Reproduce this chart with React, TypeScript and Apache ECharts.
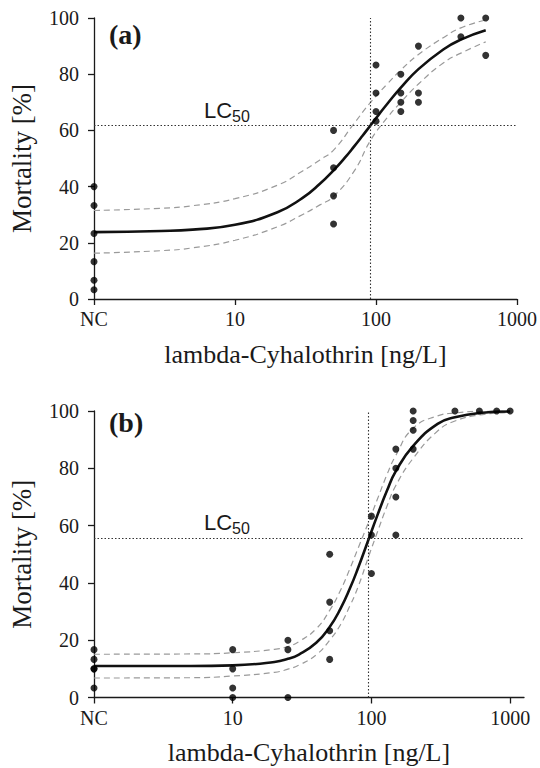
import React, { useEffect, useRef } from "react";
import * as echarts from "echarts";

// ---------- shared axis data ----------
const xTickPositions = [0, 1, 2, 3]; // log10 of concentration, NC placed at 1 ng/L
const xTickLabels = ["NC", "10", "100", "1000"];
const xTitle = "lambda-Cyhalothrin [ng/L]";
const yTitle = "Mortality [%]";

// ---------- panel (a) ----------
const obsConcA = ["NC", "NC", "NC", "NC", "NC", "NC", 50, 50, 50, 50, 100, 100, 100, 100, 150, 150, 150, 150, 200, 200, 200, 400, 400, 600, 600];
const obsMortA = [40, 33.3, 23.3, 13.3, 6.7, 3.3, 60, 46.7, 36.7, 26.7, 83.3, 73.3, 66.7, 63.3, 80, 73.3, 70, 66.7, 90, 73.3, 70, 100, 93.3, 100, 86.7];

const fitConcA = [1, 3, 5, 10, 20, 30, 40, 50, 60, 70, 80, 91.6, 105, 120, 150, 200, 300, 400, 600];
const fitMortA = [23.8, 24.2, 24.7, 26.4, 30.9, 35.9, 41.0, 45.8, 50.2, 54.3, 58.0, 61.85, 65.7, 69.4, 75.2, 81.8, 88.8, 92.3, 95.6];

const bandConcA = [1, 3, 5, 10, 20, 30, 40, 50, 70, 91.6, 120, 150, 200, 300, 400, 600];
const upperA = [31.5, 32.3, 33.2, 35.7, 40.5, 45.5, 49.5, 53.0, 62.5, 70.0, 76.5, 81.5, 87.0, 93.0, 96.5, 99.3];
const lowerA = [16.3, 17.2, 18.2, 20.9, 25.7, 30.0, 33.5, 36.5, 45.5, 56.5, 64.5, 70.0, 76.5, 84.0, 87.5, 91.5];

const lc50ConcA = 91.6;
const lc50LevelA = 61.85;

// ---------- panel (b) ----------
const obsConcB = ["NC", "NC", "NC", "NC", "NC", 10, 10, 10, 10, 25, 25, 25, 50, 50, 50, 50, 100, 100, 100, 150, 150, 150, 150, 200, 200, 200, 200, 400, 600, 800, 1000];
const obsMortB = [16.7, 13.3, 10, 10, 3.3, 16.7, 10, 3.3, 0, 20, 16.7, 0, 50, 33.3, 23.3, 13.3, 63.3, 56.7, 43.3, 86.7, 80, 70, 56.7, 100, 96.7, 93.3, 86.7, 100, 100, 100, 100];

const fitConcB = [1, 5, 10, 20, 25, 30, 40, 50, 60, 70, 80, 95.9, 110, 130, 150, 200, 300, 400, 600, 1000];
const fitMortB = [11.0, 11.0, 11.2, 12.4, 13.5, 15.0, 19.1, 24.6, 31.1, 38.1, 45.1, 55.5, 63.4, 72.4, 79.0, 87.8, 95.5, 97.8, 99.3, 99.8];

const bandConcB = [1, 5, 10, 20, 25, 30, 40, 50, 60, 70, 80, 95.9, 110, 130, 150, 200, 300, 400, 600, 1000];
const upperB = [15.1, 15.2, 15.6, 16.8, 17.8, 19.5, 24.0, 30.4, 37.5, 45.0, 52.0, 61.5, 69.0, 78.0, 84.5, 94.0, 98.3, 99.3, 99.9, 100];
const lowerB = [6.8, 6.9, 7.5, 8.8, 9.9, 11.3, 14.9, 20.0, 25.5, 32.0, 38.5, 49.5, 57.5, 67.0, 74.0, 83.5, 93.0, 96.5, 98.6, 99.5];

const lc50ConcB = 95.9;
const lc50LevelB = 55.5;

// ---------- helpers ----------
const SERIF = "'Liberation Serif', 'Times New Roman', serif";
const SANS = "'Liberation Sans', Arial, sans-serif";
const INK = "#1a1a1a";

const toX = (c: number | string) => (c === "NC" ? 0 : Math.log10(c as number));
const pairs = (xs: (number | string)[], ys: number[]) => xs.map((c, i) => [toX(c), ys[i]]);

function xAxisFor(gridIndex: number, max: number) {
  return {
    type: "value",
    gridIndex,
    min: 0,
    max,
    splitLine: { show: false },
    axisLine: { show: true, onZero: false, lineStyle: { color: INK, width: 1.3 } },
    axisTick: { show: true, length: 6, customValues: xTickPositions, lineStyle: { color: INK, width: 1.3 } },
    axisLabel: {
      customValues: xTickPositions,
      formatter: (v: number) => {
        const i = xTickPositions.findIndex((t) => Math.abs(t - v) < 1e-6);
        return i >= 0 ? xTickLabels[i] : "";
      },
      fontFamily: SERIF,
      fontSize: 20,
      color: INK,
      margin: 10,
    },
    name: xTitle,
    nameLocation: "middle",
    nameGap: 42,
    nameTextStyle: { fontFamily: SERIF, fontSize: 26, color: INK },
  };
}

function yAxisFor(gridIndex: number) {
  return {
    type: "value",
    gridIndex,
    min: 0,
    max: 100,
    interval: 20,
    splitLine: { show: false },
    axisLine: { show: true, onZero: false, lineStyle: { color: INK, width: 1.3 } },
    axisTick: { show: true, length: 6, lineStyle: { color: INK, width: 1.3 } },
    axisLabel: { fontFamily: SERIF, fontSize: 20, color: INK, margin: 15 },
    name: yTitle,
    nameLocation: "middle",
    nameGap: 59,
    nameTextStyle: { fontFamily: SERIF, fontSize: 27, color: INK },
  };
}

function panelSeries(
  idx: number,
  obsC: (number | string)[],
  obsM: number[],
  fitC: number[],
  fitM: number[],
  bandC: number[],
  up: number[],
  lo: number[],
  lcConc: number,
  lcLevel: number
) {
  const band = (ys: number[]) => ({
    type: "line",
    xAxisIndex: idx,
    yAxisIndex: idx,
    data: pairs(bandC, ys),
    smooth: true,
    showSymbol: false,
    lineStyle: { color: "#9a9a9a", width: 1.2, type: [6, 4] },
    z: 2,
  });
  return [
    band(up),
    band(lo),
    {
      type: "line",
      xAxisIndex: idx,
      yAxisIndex: idx,
      data: pairs(fitC, fitM),
      smooth: true,
      showSymbol: false,
      lineStyle: { color: "#111", width: 2.6 },
      z: 3,
      markLine: {
        silent: true,
        symbol: "none",
        label: { show: false },
        lineStyle: { color: "#333", width: 1.1, type: [1.5, 2] },
        data: [{ yAxis: lcLevel }, { xAxis: Math.log10(lcConc) }],
      },
    },
    {
      type: "scatter",
      xAxisIndex: idx,
      yAxisIndex: idx,
      data: pairs(obsC, obsM),
      symbolSize: 7,
      itemStyle: { color: "#000" },
      z: 4,
    },
  ];
}

export default function App() {
  const ref = useRef<HTMLDivElement>(null);

  useEffect(() => {
    if (!ref.current) return;
    const chart = echarts.init(ref.current, null, { renderer: "svg" });
    chart.setOption({
      animation: false,
      backgroundColor: "#ffffff",
      grid: [
        { left: 94, top: 18, width: 425, height: 281 },
        { left: 94, top: 411, width: 430, height: 286.5 },
      ],
      xAxis: [xAxisFor(0, 3), xAxisFor(1, 3.1)],
      yAxis: [yAxisFor(0), yAxisFor(1)],
      series: [
        ...panelSeries(0, obsConcA, obsMortA, fitConcA, fitMortA, bandConcA, upperA, lowerA, lc50ConcA, lc50LevelA),
        ...panelSeries(1, obsConcB, obsMortB, fitConcB, fitMortB, bandConcB, upperB, lowerB, lc50ConcB, lc50LevelB),
      ],
      graphic: [
        { type: "text", left: 109, top: 20, style: { text: "(a)", font: `bold 28px ${SERIF}`, fill: INK } },
        { type: "text", left: 109, top: 408, style: { text: "(b)", font: `bold 28px ${SERIF}`, fill: INK } },
        { type: "text", left: 204, top: 99, style: { text: "LC", font: `22px ${SANS}`, fill: INK } },
        { type: "text", left: 232, top: 108, style: { text: "50", font: `16px ${SANS}`, fill: INK } },
        { type: "text", left: 204, top: 511, style: { text: "LC", font: `22px ${SANS}`, fill: INK } },
        { type: "text", left: 232, top: 520, style: { text: "50", font: `16px ${SANS}`, fill: INK } },
      ],
    });
    return () => chart.dispose();
  }, []);

  return (
    <div
      ref={ref}
      style={{ position: "absolute", left: 0, top: 0, width: 540, height: 768, background: "#fff" }}
    />
  );
}
